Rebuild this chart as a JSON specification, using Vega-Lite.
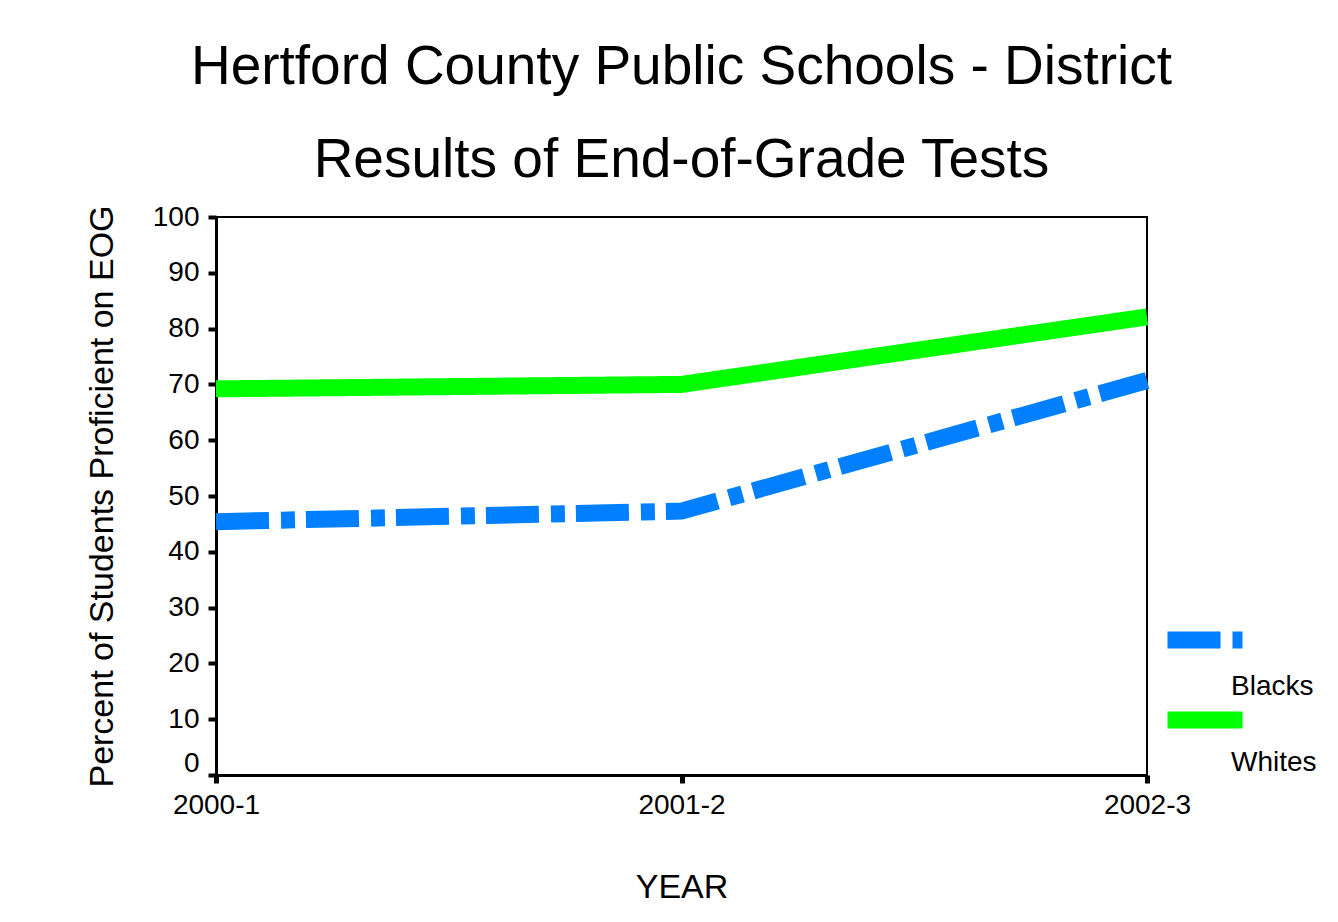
{
  "$schema": "https://vega.github.io/schema/vega-lite/v6.json",
  "autosize": "none",
  "width": 931,
  "height": 558,
  "padding": {"left": 216, "top": 217, "right": 191, "bottom": 147},
  "background": "white",
  "title": {
    "text": ["Hertford County Public Schools - District", "Results of End-of-Grade Tests"],
    "font": "Liberation Sans",
    "fontSize": 55,
    "fontWeight": "normal",
    "color": "black",
    "lineHeight": 93,
    "anchor": "middle",
    "offset": 14
  },
  "data": {
    "values": [
      {"year": "2000-1", "group": "Blacks", "pct": 45.4},
      {"year": "2001-2", "group": "Blacks", "pct": 47.3},
      {"year": "2002-3", "group": "Blacks", "pct": 70.7},
      {"year": "2000-1", "group": "Whites", "pct": 69.2},
      {"year": "2001-2", "group": "Whites", "pct": 70.0},
      {"year": "2002-3", "group": "Whites", "pct": 82.1}
    ]
  },
  "encoding": {
    "x": {
      "field": "year",
      "type": "ordinal",
      "scale": {"type": "point", "padding": 0},
      "axis": {
        "title": "YEAR",
        "titleFontSize": 34,
        "titlePadding": 51,
        "labelFontSize": 28,
        "labelAngle": 0,
        "labelPadding": 8,
        "tickSize": 8,
        "tickWidth": 5
      }
    },
    "y": {
      "field": "pct",
      "type": "quantitative",
      "scale": {"domain": [0, 100], "nice": false},
      "axis": {
        "title": "Percent of Students Proficient on EOG",
        "titleFontSize": 34,
        "titlePadding": 33,
        "values": [0, 10, 20, 30, 40, 50, 60, 70, 80, 90, 100],
        "labelFontSize": 28,
        "labelPadding": 9,
        "labelOffset": {"condition": {"test": "datum.value === 0", "value": -12}, "value": 0},
        "tickSize": 8,
        "tickWidth": 4,
        "grid": false
      }
    }
  },
  "layer": [
    {
      "mark": {"type": "line", "strokeWidth": 17, "strokeCap": "butt"},
      "encoding": {
        "color": {
          "field": "group",
          "type": "nominal",
          "scale": {"domain": ["Blacks", "Whites"], "range": ["#0080FF", "#00FF00"]},
          "legend": {
            "title": null,
            "orient": "none",
            "legendX": 943,
            "legendY": 377,
            "symbolType": "stroke",
            "symbolSize": 5625,
            "symbolStrokeWidth": 17,
            "labelExpr": "''",
            "labelFontSize": 1,
            "rowPadding": -2
          }
        },
        "strokeDash": {
          "field": "group",
          "type": "nominal",
          "scale": {"domain": ["Blacks", "Whites"], "range": [[53, 12, 14, 11], [1, 0]]},
          "legend": {
            "title": null,
            "orient": "none",
            "legendX": 943,
            "legendY": 377,
            "symbolType": "stroke",
            "symbolSize": 5625,
            "symbolStrokeWidth": 17,
            "labelExpr": "''",
            "labelFontSize": 1,
            "rowPadding": -2
          }
        }
      }
    },
    {
      "mark": {"type": "point", "opacity": 0},
      "encoding": {
        "shape": {
          "field": "group",
          "type": "nominal",
          "legend": {
            "title": null,
            "orient": "none",
            "legendX": 987,
            "legendY": 456,
            "symbolSize": 16,
            "symbolOpacity": 0,
            "labelFontSize": 28,
            "labelOffset": 0,
            "rowPadding": 48
          }
        }
      }
    }
  ],
  "config": {
    "font": "Liberation Sans",
    "view": {"stroke": "black", "strokeWidth": 2},
    "axis": {
      "domainColor": "black",
      "domainWidth": 3,
      "tickColor": "black",
      "labelColor": "black",
      "titleColor": "black",
      "labelFont": "Liberation Sans",
      "titleFont": "Liberation Sans",
      "titleFontWeight": "normal"
    },
    "legend": {"labelColor": "black", "labelFont": "Liberation Sans", "padding": 0}
  }
}
